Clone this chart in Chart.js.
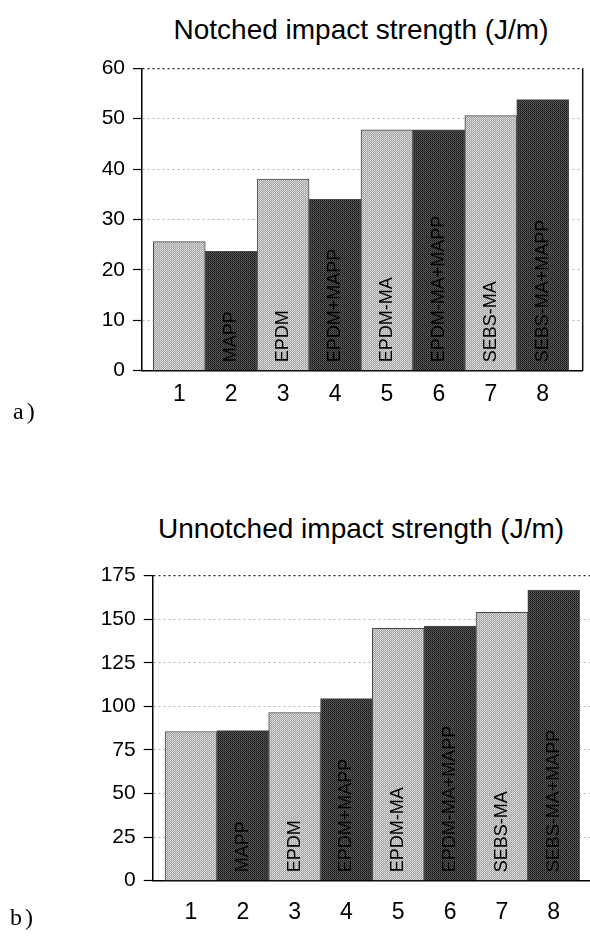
<!DOCTYPE html>
<html><head><meta charset="utf-8">
<script src="https://cdn.jsdelivr.net/npm/chart.js@4/dist/chart.umd.min.js"></script>
<style>
html,body{margin:0;padding:0;background:#fff;}
body{width:590px;height:939px;position:relative;overflow:hidden;font-family:"Liberation Sans",Arial,sans-serif;}
.title{position:absolute;left:0;width:722px;text-align:center;font-size:28px;line-height:28px;color:#000;white-space:nowrap;}
.pl{position:absolute;font-family:"Liberation Serif","Times New Roman",serif;font-size:24px;line-height:24px;letter-spacing:3px;color:#000;}
canvas{position:absolute;left:0;}
</style></head>
<body>
<div class="title" style="top:16px">Notched impact strength (J/m)</div>
<canvas id="c1" width="590" height="440" style="top:0"></canvas>
<div class="pl" style="left:13px;top:399px">a)</div>
<div class="title" style="top:515px">Unnotched impact strength (J/m)</div>
<canvas id="c2" width="590" height="469" style="top:470px"></canvas>
<div class="pl" style="left:10px;top:905px">b)</div>
<script>
// ---- data ----
const positions = [1, 2, 3, 4, 5, 6, 7, 8];
const xTickLabels = ['1', '2', '3', '4', '5', '6', '7', '8'];
const blends = ['', 'MAPP', 'EPDM', 'EPDM+MAPP', 'EPDM-MA', 'EPDM-MA+MAPP', 'SEBS-MA', 'SEBS-MA+MAPP'];
const notched = [25.6, 23.7, 38.0, 34.0, 47.8, 47.8, 50.6, 53.8];
const unnotched = [85.6, 86.1, 96.5, 104.5, 144.8, 146.1, 154.0, 166.8];
const notchedTicks = [0, 10, 20, 30, 40, 50, 60];
const unnotchedTicks = [0, 25, 50, 75, 100, 125, 150, 175];

// ---- styles ----
function makePattern(a, b, c, d) {
  const p = document.createElement('canvas');
  p.width = 2; p.height = 2;
  const g = p.getContext('2d');
  g.fillStyle = a; g.fillRect(0, 0, 1, 1);
  g.fillStyle = b; g.fillRect(1, 0, 1, 1);
  g.fillStyle = c; g.fillRect(0, 1, 1, 1);
  g.fillStyle = d; g.fillRect(1, 1, 1, 1);
  return g.createPattern(p, 'repeat');
}
const lightFill = makePattern('#e2e2e2', '#9c9c9c', '#a8a8a8', '#cfcfcf');
const darkFill = makePattern('#151515', '#5c5c5c', '#505050', '#2a2a2a');
const fills = positions.map((p, i) => i % 2 === 0 ? lightFill : darkFill);

const barText = {
  id: 'barText',
  afterDatasetsDraw(chart, args, opts) {
    const ctx = chart.ctx;
    const meta = chart.getDatasetMeta(0);
    ctx.save();
    ctx.font = '18px "Liberation Sans", Arial, sans-serif';
    ctx.fillStyle = '#000';
    ctx.textAlign = 'left';
    ctx.textBaseline = 'middle';
    meta.data.forEach((bar, i) => {
      const s = opts.labels[i];
      if (!s) return;
      ctx.save();
      ctx.translate(bar.x, bar.base - 8);
      ctx.rotate(-Math.PI / 2);
      ctx.fillText(s, 0, 0);
      ctx.restore();
    });
    ctx.restore();
  }
};
const rightBorder = {
  id: 'rightBorder',
  afterDraw(chart, args, opts) {
    if (!opts.show) return;
    const a = chart.chartArea, ctx = chart.ctx;
    ctx.save();
    ctx.strokeStyle = '#111';
    ctx.lineWidth = 1.5;
    ctx.beginPath();
    ctx.moveTo(a.right, a.top);
    ctx.lineTo(a.right, a.bottom);
    ctx.stroke();
    ctx.restore();
  }
};

function build(id, values, yTicks, cfg) {
  const yMax = yTicks[yTicks.length - 1];
  return new Chart(document.getElementById(id), {
    type: 'bar',
    data: {
      datasets: [{
        data: positions.map((x, i) => ({ x: x, y: values[i] })),
        backgroundColor: fills,
        borderColor: '#4a4a4a',
        borderWidth: 1,
        categoryPercentage: 1,
        barPercentage: 1
      }]
    },
    options: {
      responsive: false,
      animation: false,
      devicePixelRatio: 1,
      layout: { padding: cfg.padding },
      plugins: {
        legend: { display: false },
        tooltip: { enabled: false },
        title: { display: false },
        barText: { labels: blends },
        rightBorder: { show: cfg.right }
      },
      scales: {
        x: {
          type: 'linear',
          offset: false,
          min: cfg.xmin,
          max: cfg.xmax,
          afterBuildTicks: s => { s.ticks = positions.map(v => ({ value: v })); },
          afterFit: s => { s.height = 40; },
          grid: { display: false, offset: false },
          border: { display: true, color: '#000', width: 1.5 },
          ticks: {
            color: '#000',
            padding: cfg.xpad,
            font: { family: '"Liberation Sans", Arial, sans-serif', size: 23 },
            callback: v => { const k = positions.indexOf(v); return k >= 0 ? xTickLabels[k] : ''; }
          }
        },
        y: {
          min: 0,
          max: yMax,
          afterBuildTicks: s => { s.ticks = yTicks.map(v => ({ value: v })); },
          afterFit: s => { s.width = cfg.yw; },
          grid: {
            color: c => (c.tick && c.tick.value === yMax) ? '#222' : '#b4b4b4',
            lineWidth: c => (c.tick && c.tick.value === yMax) ? 1.2 : 1,
            tickColor: '#000',
            tickLength: 9,
            tickWidth: 1.2,
            tickBorderDash: []
          },
          border: { display: true, color: '#000', width: 1.5, dash: [2, 3] },
          ticks: {
            color: '#000',
            padding: 8,
            font: { family: '"Liberation Sans", Arial, sans-serif', size: 21 }
          }
        }
      }
    },
    plugins: [barText, rightBorder]
  });
}

build('c1', notched, notchedTicks, {
  padding: { top: 68.3, right: 7.3, left: 0, bottom: 29.3 },
  xmin: 0.282, xmax: 8.77, yw: 142, right: true, xpad: 2
});
build('c2', unnotched, unnotchedTicks, {
  padding: { top: 105.7, right: 0, left: 0, bottom: 18.3 },
  xmin: 0.261, xmax: 8.70, yw: 152.7, right: false, xpad: 10
});
</script>
</body></html>
